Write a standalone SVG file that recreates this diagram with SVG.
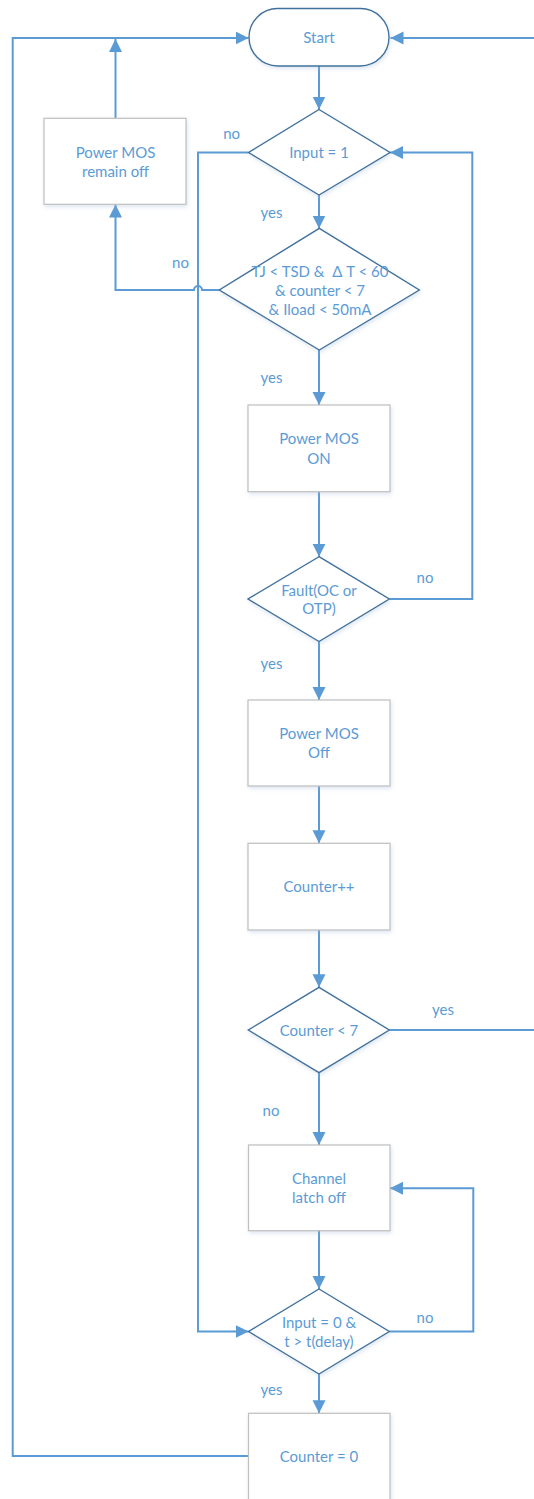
<svg xmlns="http://www.w3.org/2000/svg" width="534" height="1499" viewBox="0 0 534 1499">
<style>
.t{font-family:Lato,"Open Sans","Liberation Sans",sans-serif;font-size:15px;fill:#5B9BD5;text-anchor:middle;white-space:pre}
.box{fill:#fff;stroke:#BFBFBF;stroke-width:1.2;filter:url(#sh)}
.dia{fill:#fff;stroke:#41719C;stroke-width:1.4;filter:url(#sh)}
.c{fill:none;stroke:#5B9BD5;stroke-width:2}
.a{marker-end:url(#arr)}
</style>
<defs>
<marker id="arr" markerUnits="userSpaceOnUse" markerWidth="14" markerHeight="14" refX="13" refY="6.5" orient="auto">
<path d="M0,0 L13,6.5 L0,13 z" fill="#5B9BD5"/>
</marker>
<filter id="sh" x="-10%" y="-10%" width="125%" height="125%">
<feDropShadow dx="1" dy="2" stdDeviation="2" flood-color="#9DB7D5" flood-opacity="0.35"/>
</filter>
</defs>
<g id="connectors">
<path class="c a" d="M319,66 L319,109.5"/>
<path class="c a" d="M319,195 L319,228.5"/>
<path class="c a" d="M248.6,152.5 L198,152.5 L198,1331.5 L248.6,1331.5"/>
<path class="c a" d="M219.3,290 L202,290 A4,4 0 0 0 194,290 L115.5,290 L115.5,204.5"/>
<path class="c a" d="M115.5,118.3 L115.5,39"/>
<path class="c a" d="M248.5,1456 L12.7,1456 L12.7,38 L248.6,38"/>
<path class="c a" d="M319,350 L319,405"/>
<path class="c a" d="M319,491.7 L319,556.7"/>
<path class="c a" d="M389.3,599 L472.3,599 L472.3,152.5 L390,152.5"/>
<path class="c a" d="M319,641.5 L319,700"/>
<path class="c a" d="M319,786 L319,843.3"/>
<path class="c a" d="M319,930 L319,987.3"/>
<path class="c a" d="M389.3,1030 L545,1030 L545,38 L390.5,38"/>
<path class="c a" d="M319,1072.7 L319,1145"/>
<path class="c a" d="M319,1230.7 L319,1289"/>
<path class="c a" d="M389.3,1331.5 L473.3,1331.5 L473.3,1188.3 L390,1188.3"/>
<path class="c a" d="M319,1374 L319,1413.3"/>
</g>
<g id="start">
<rect x="249" y="8.5" width="140" height="57.5" rx="28.7" ry="28.7" class="dia"/>
<text class="t" x="319" y="42.5">Start</text>
</g>
<g id="input1">
<polygon class="dia" points="319,109.5 390,152.5 319,195 248.6,152.5"/>
<text class="t" x="319" y="157.5">Input = 1</text>
</g>
<g id="remainoff">
<rect class="box" x="44" y="118.3" width="142" height="86"/>
<text class="t" x="115.5" y="157.7">Power MOS</text>
<text class="t" x="115.5" y="176.7">remain off</text>
</g>
<g id="cond">
<polygon class="dia" points="319.3,228.3 419.3,290 319.3,350 219.3,290"/>
<text class="t" x="320" y="276.7">TJ &lt; TSD &amp;  Δ T &lt; 60</text>
<text class="t" x="320" y="296">&amp; counter &lt; 7</text>
<text class="t" x="320" y="315">&amp; Iload &lt; 50mA</text>
</g>
<g id="mosOn">
<rect class="box" x="248" y="405" width="142" height="86.7"/>
<text class="t" x="319" y="444">Power MOS</text>
<text class="t" x="319" y="464">ON</text>
</g>
<g id="fault">
<polygon class="dia" points="319,556.7 389.3,599 319,641.5 248,599"/>
<text class="t" x="319" y="596">Fault(OC or</text>
<text class="t" x="319" y="614">OTP)</text>
</g>
<g id="mosOff">
<rect class="box" x="248" y="700" width="142" height="86"/>
<text class="t" x="319" y="739">Power MOS</text>
<text class="t" x="319" y="758">Off</text>
</g>
<g id="counterInc">
<rect class="box" x="248" y="843.3" width="142" height="86.7"/>
<text class="t" x="319" y="892">Counter++</text>
</g>
<g id="counterLt7">
<polygon class="dia" points="319,987.3 389.3,1030 319,1072.7 248.3,1030"/>
<text class="t" x="319" y="1036">Counter &lt; 7</text>
</g>
<g id="latchOff">
<rect class="box" x="248.5" y="1145" width="141.5" height="85.7"/>
<text class="t" x="319" y="1184.3">Channel</text>
<text class="t" x="319" y="1203.3">latch off</text>
</g>
<g id="input0">
<polygon class="dia" points="319,1289 389.3,1331.5 319,1374 248.6,1331.5"/>
<text class="t" x="319" y="1328.3">Input = 0 &amp;</text>
<text class="t" x="319" y="1347.3">t &gt; t(delay)</text>
</g>
<g id="counterReset">
<rect class="box" x="248.5" y="1413.3" width="141.5" height="90"/>
<text class="t" x="319" y="1462">Counter = 0</text>
</g>
<g id="labels">
<text class="t" x="231.6" y="139">no</text>
<text class="t" x="271.5" y="217.7">yes</text>
<text class="t" x="180.5" y="267.7">no</text>
<text class="t" x="271.5" y="383">yes</text>
<text class="t" x="425" y="583">no</text>
<text class="t" x="271.5" y="669">yes</text>
<text class="t" x="443" y="1015">yes</text>
<text class="t" x="271" y="1116">no</text>
<text class="t" x="425" y="1323.3">no</text>
<text class="t" x="271.5" y="1395">yes</text>
</g>
</svg>
